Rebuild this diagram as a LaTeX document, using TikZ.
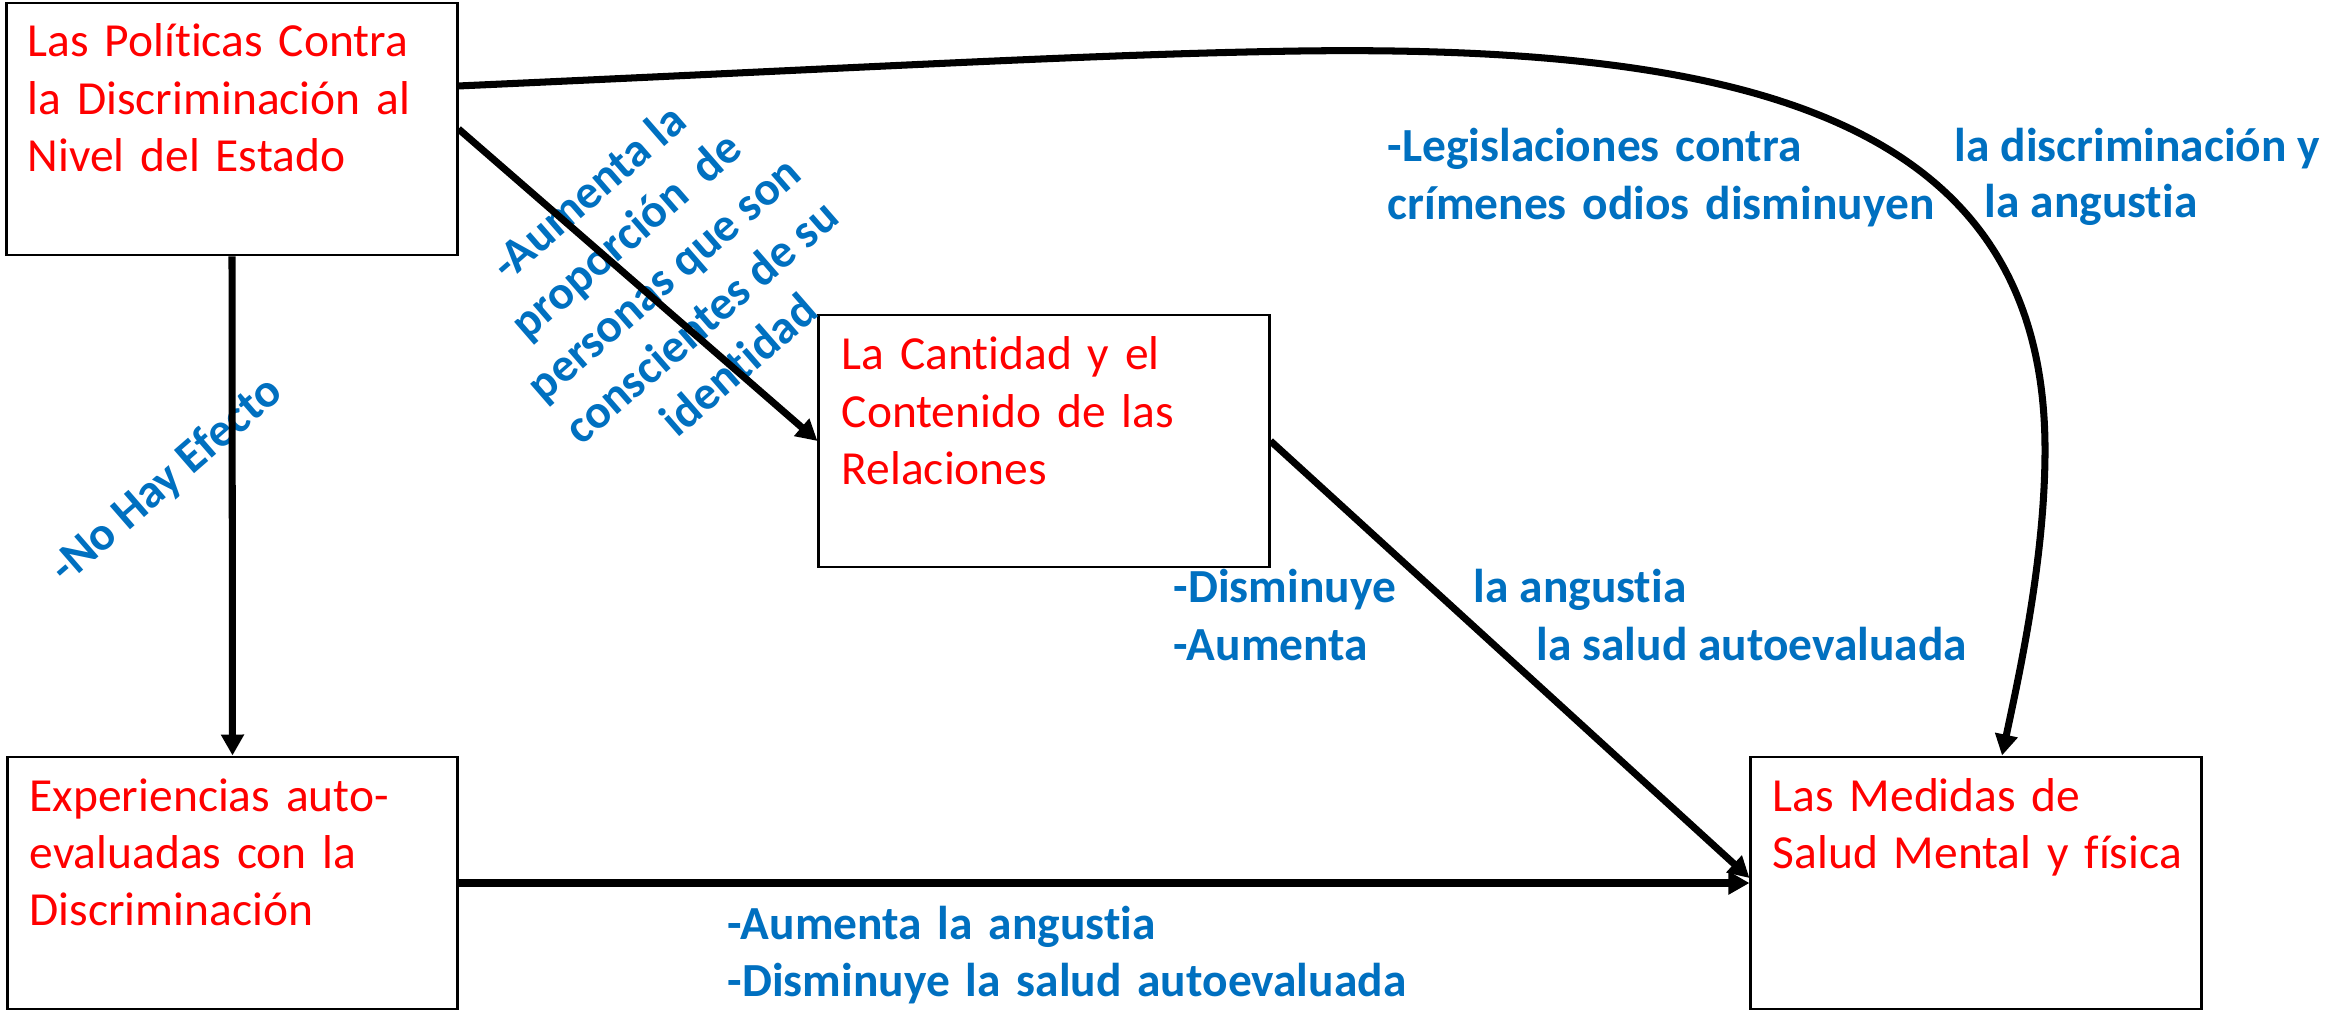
\documentclass[tikz,border=0pt]{standalone}
\usepackage{fontspec}
\setmainfont{Carlito}[Ligatures=CommonOff]
\usetikzlibrary{arrows.meta}
\definecolor{lblblue}{HTML}{0070C0}
\definecolor{boxred}{HTML}{FF0000}
\begin{document}
\begin{tikzpicture}[x=0.01cm,y=-0.01cm,
  box/.style={draw, line width=0.8pt, minimum width=4.5cm, minimum height=2.52cm, inner sep=0pt},
  boxtext/.style={anchor=base west, inner sep=0pt, text width=4.2cm, align=left, text=boxred, font=\fontsize{13.5}{16.3}\selectfont},
  lbl/.style={anchor=base west, inner sep=0pt, text=lblblue, font=\bfseries\fontsize{13.5}{16.3}\selectfont},
  lblml/.style={lbl, text width=7cm, align=left},
  rlbl/.style={inner sep=0pt, text=lblblue, font=\bfseries\fontsize{13.5}{16.3}\selectfont, rotate=41, align=center},
  arr/.style={line width=2pt, -{Triangle[length=0.21cm,width=0.22cm]}}]
\fill[white] (0,0) rectangle (2331,1016);
\useasboundingbox (0,0) rectangle (2331,1016);

\node[box] (A) at (232,129) {};
\node[box] (B) at (1044,441) {};
\node[box] (C) at (232.5,883) {};
\node[box] (D) at (1976,883) {};

\node[boxtext] (tA) at (27,57) {Las Políticas Contra\\la Discriminación al\\Nivel del Estado};
\node[boxtext] (tB) at (841,370) {La Cantidad y el\\Contenido de las\\Relaciones};
\node[boxtext] (tC) at (29,811) {Experiencias auto-\\evaluadas con la\\Discriminación};
\node[boxtext] (tD) at (1772,811) {Las Medidas de\\Salud Mental y física};

\node[lblml] (l1) at (1387,162) {-Legislaciones contra\\crímenes odios disminuyen};
\node[lbl] (l2) at (1954,162) {la discriminación y};
\node[lbl] (l3) at (1984,218) {la angustia};
\node[lblml] (l4) at (1173,603) {-Disminuye\\-Aumenta};
\node[lbl] (l5) at (1473,603) {la angustia};
\node[lbl] (l6) at (1536,660) {la salud autoevaluada};
\node[lblml] (l7) at (727,939) {-Aumenta la angustia\\-Disminuye la salud autoevaluada};
\node[rlbl] (l8) at (663,278) {-Aumenta la\\proporción~ de\\personas que son\\conscientes de su\\identidad};
\node[rlbl] (l9) at (167,481) {-No Hay Efecto};

\draw[arr] (A.south) -- (C.north);
\draw[arr] (A.east) -- (B.west);
\draw[arr] (B.east) -- ([yshift=0.05cm]D.west);
\draw[arr] (C.east) -- (D.west);
\draw[arr] ([yshift=0.43cm]A.east) .. controls (900,66) and (1100,54) .. (1300,51)
  .. controls (1750,45) and (2045,120) .. (2045,450)
  .. controls (2045,560) and (2018,680) .. ([xshift=0.26cm]D.north);
\end{tikzpicture}
\end{document}
